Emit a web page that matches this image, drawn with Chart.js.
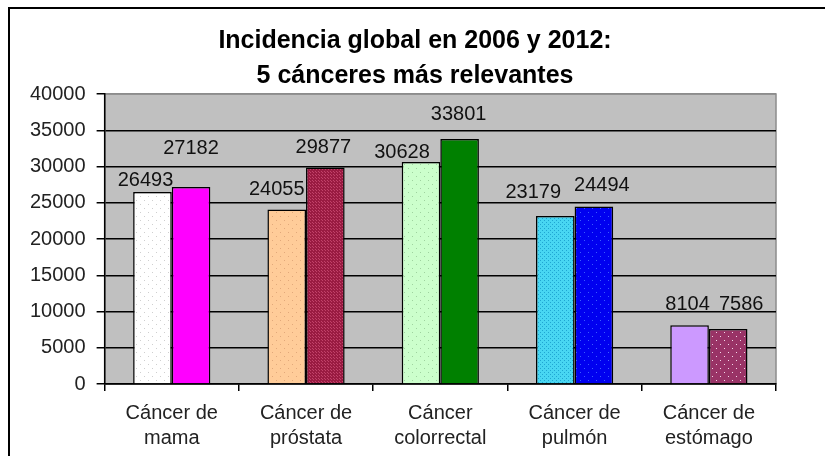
<!DOCTYPE html>
<html>
<head>
<meta charset="utf-8">
<script src="https://cdn.jsdelivr.net/npm/chart.js@4.4.1/dist/chart.umd.min.js"></script>
<style>
html,body{margin:0;padding:0;background:#fff;overflow:hidden}
canvas{display:block}
</style>
</head>
<body>
<canvas id="c" width="825" height="456"></canvas>
<script>
// ---- data ----
const categories = [["Cáncer de","mama"],["Cáncer de","próstata"],["Cáncer","colorrectal"],["Cáncer de","pulmón"],["Cáncer de","estómago"]];
const seriesNames = ["2006","2012"];
const values2006 = [26493, 24055, 30628, 23179, 8104];
const values2012 = [27182, 29877, 33801, 24494, 7586];
const yTickValues = [0, 5000, 10000, 15000, 20000, 25000, 30000, 35000, 40000];
const titleLines = ["Incidencia global en 2006 y 2012:", "5 cánceres más relevantes"];

// ---- styling ----
const FONT = '"Liberation Sans", Arial, sans-serif';
function pat(base, dot, step, r){
  const c = document.createElement('canvas'); c.width = step; c.height = step;
  const x = c.getContext('2d');
  x.fillStyle = base; x.fillRect(0,0,step,step);
  x.fillStyle = dot; x.fillRect(0,0,r,r); x.fillRect(Math.floor(step/2), Math.floor(step/2), r, r);
  return x.createPattern(c, 'repeat');
}
const colors2006 = [pat('#ffffff','#cfcfcf',8,1), pat('#ffcc99','#e2a87a',8,1), pat('#ccffcc','#9fd39f',8,1), pat('#48d6f2','#1fa6d2',4,1), '#cc99ff'];
const colors2012 = ['#ff00ff', pat('#9a1b42','#c2426a',3,1), '#008000', pat('#0000f0','#3a5cff',8,1), pat('#993366','#f4d8ea',8,1)];
// label nudges (dx, dy from bar top) mimicking the hand-placed Excel labels
const labelNudge = [
  [[-7,-6],[-10,-15],[-19,-4],[-22,-18],[-2,-15]],
  [[0,-33],[-2,-14],[-1,-19],[8,-15],[13,-19]]
];

const bgPlugin = {
  id: 'bg',
  beforeDraw(chart){
    const {ctx, chartArea:a} = chart;
    ctx.save();
    ctx.fillStyle = '#fff'; ctx.fillRect(0,0,chart.width,chart.height);
    ctx.strokeStyle = '#000'; ctx.lineWidth = 2;
    ctx.strokeRect(9, 8, chart.width + 20, chart.height + 20);
    ctx.fillStyle = '#c0c0c0';
    ctx.fillRect(a.left, a.top, a.right - a.left, a.bottom - a.top);
    ctx.strokeStyle = '#8c8c8c'; ctx.lineWidth = 1.5;
    ctx.strokeRect(a.left, a.top, a.right - a.left, a.bottom - a.top);
    ctx.restore();
  }
};
const titlePlugin = {
  id: 'ttl',
  afterDraw(chart){
    const ctx = chart.ctx;
    ctx.save();
    ctx.fillStyle = '#000';
    ctx.font = 'bold 25px ' + FONT;
    ctx.textAlign = 'center'; ctx.textBaseline = 'middle';
    titleLines.forEach((t,i)=> ctx.fillText(t, 415, 41 + i*35));
    ctx.restore();
  }
};
const labelPlugin = {
  id: 'lbl',
  afterDatasetsDraw(chart){
    const ctx = chart.ctx;
    ctx.save();
    ctx.fillStyle = '#111';
    ctx.font = '20px ' + FONT;
    ctx.textAlign = 'center'; ctx.textBaseline = 'alphabetic';
    chart.data.datasets.forEach((ds, di)=>{
      const meta = chart.getDatasetMeta(di);
      meta.data.forEach((el, i)=>{
        const n = labelNudge[di][i];
        ctx.fillText(String(ds.data[i]), el.x + n[0], el.y + n[1]);
      });
    });
    ctx.restore();
  }
};

new Chart(document.getElementById('c'), {
  type: 'bar',
  data: {
    labels: categories,
    datasets: [
      {label: seriesNames[0], data: values2006, backgroundColor: colors2006, borderColor: '#000', borderWidth: 1.5},
      {label: seriesNames[1], data: values2012, backgroundColor: colors2012, borderColor: '#000', borderWidth: 1.5}
    ]
  },
  options: {
    responsive: false,
    animation: false,
    devicePixelRatio: 1,
    categoryPercentage: 0.575,
    barPercentage: 1,
    layout: {padding: {top: 94, left: 19, right: 49, bottom: -5}},
    plugins: {legend: {display: false}, title: {display: false}, tooltip: {enabled: false}},
    scales: {
      y: {
        min: 0, max: 40000,
        afterBuildTicks(s){ s.ticks = yTickValues.map(v=>({value:v})); },
        ticks: {font: {family: FONT, size: 20}, color: '#222', padding: 11, callback: v => String(v)},
        grid: {color: c => c.tick && c.tick.value === 40000 ? '#8c8c8c' : '#000', lineWidth: 1.5, tickLength: 8, tickColor: '#000'},
        border: {display: true, color: '#000', width: 1.5}
      },
      x: {
        offset: true,
        ticks: {font: {family: FONT, size: 20, lineHeight: 1.25}, color: '#222', padding: 10, maxRotation: 0, autoSkip: false},
        grid: {offset: true, drawOnChartArea: false, tickLength: 7, tickColor: '#000', lineWidth: 1.5},
        border: {display: true, color: '#000', width: 1.5}
      }
    }
  },
  plugins: [bgPlugin, titlePlugin, labelPlugin]
});
</script>
</body>
</html>
